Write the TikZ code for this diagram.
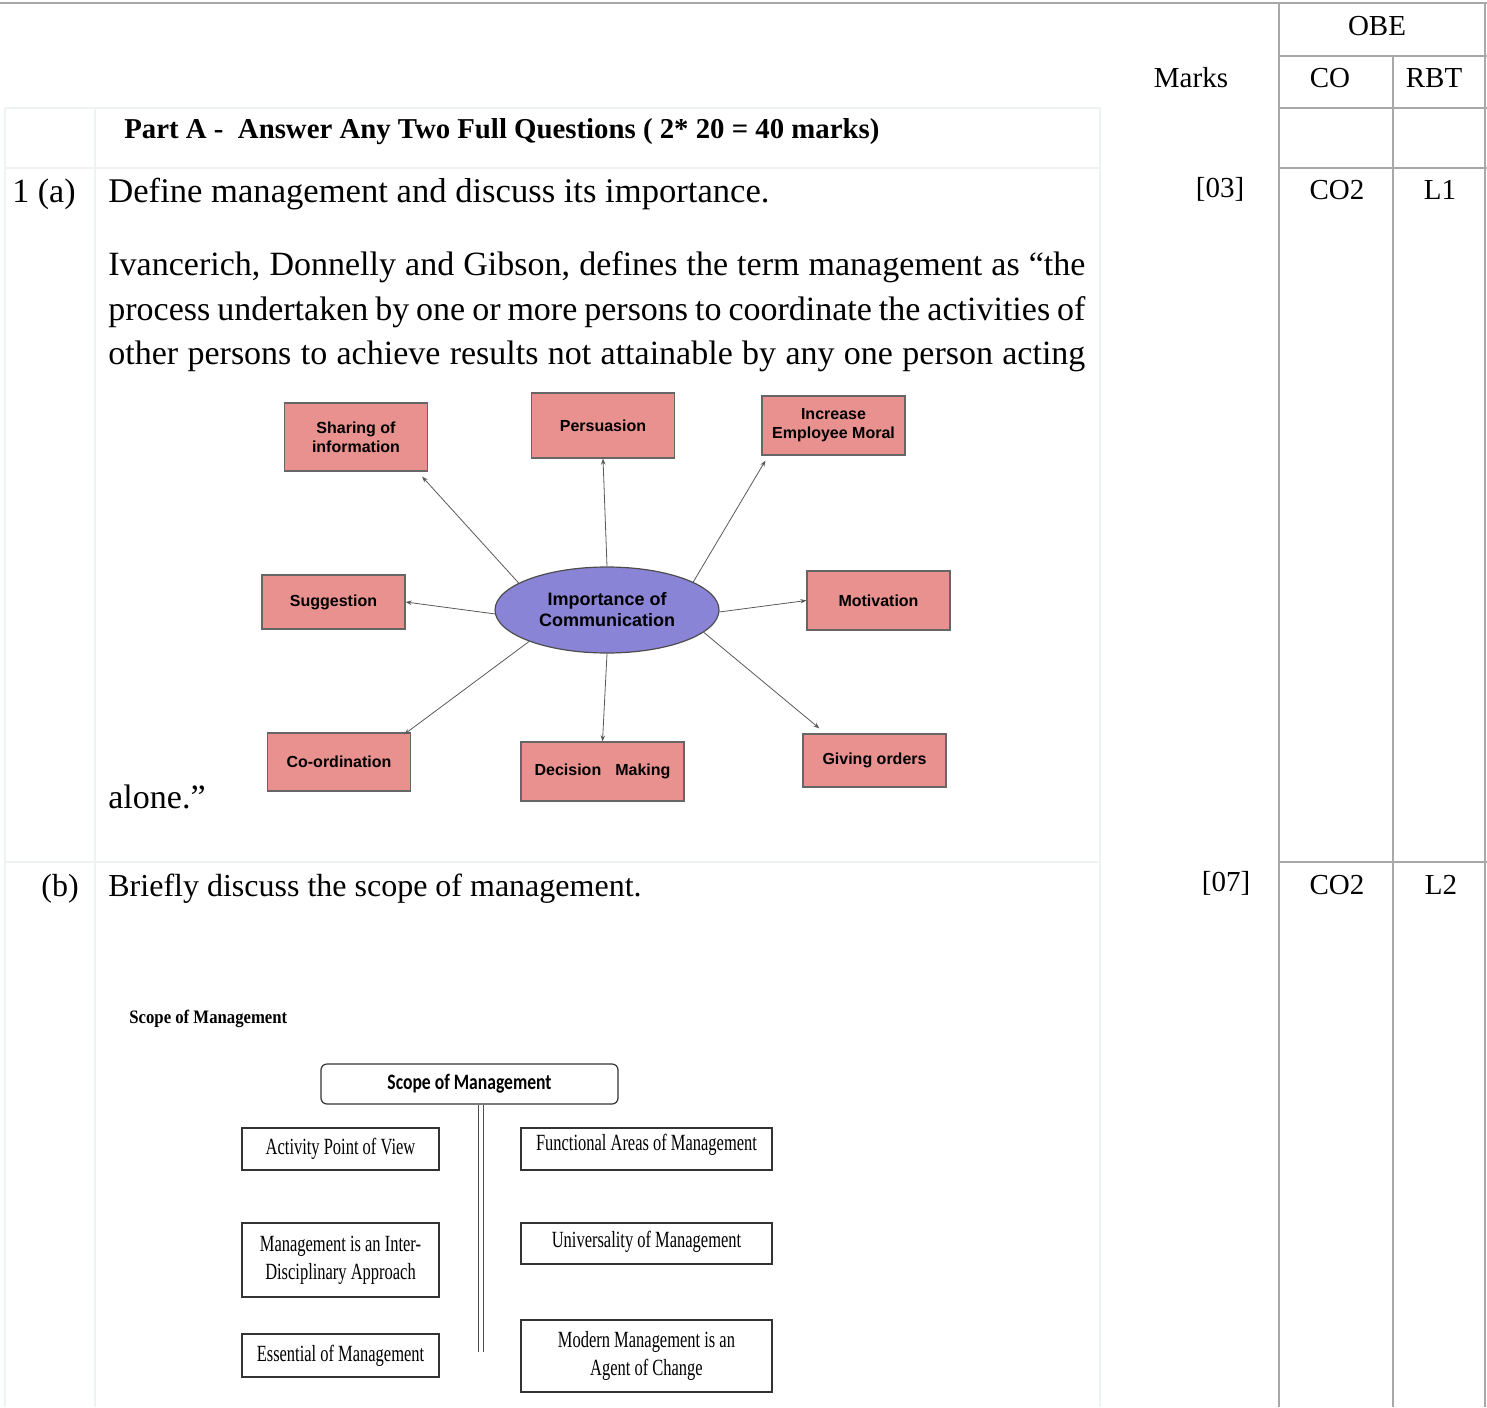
\documentclass[tikz,border=0pt]{standalone}
\usepackage{fontspec}
\setmainfont{Liberation Serif}
\newfontfamily\diagfont{Liberation Sans}
\newfontfamily\narrowserif[FakeStretch=0.71]{Liberation Serif}
\newfontfamily\headserif[FakeStretch=0.88]{Liberation Serif}
\newfontfamily\rootfont[FakeStretch=0.8]{Carlito}
\usetikzlibrary{shapes.geometric,arrows.meta,positioning}
\definecolor{rulegray}{HTML}{A8A8A8}
\definecolor{faintgray}{HTML}{EEF2F2}
\definecolor{boxpink}{HTML}{E8918F}
\definecolor{hubblue}{HTML}{8A84D6}
\tikzset{
	grid line/.style={draw=rulegray,line width=1.3pt},
	faint line/.style={draw=faintgray,line width=0.7pt},
	body/.style={anchor=base west,inner sep=0pt,font=\fontsize{17}{22}\selectfont},
	head/.style={anchor=base,inner sep=0pt,font=\fontsize{14.5}{18}\selectfont},
	part title/.style={anchor=base west,inner sep=0pt,font=\bfseries\fontsize{14.4}{17}\selectfont},
	pink box/.style={draw=black!60,fill=boxpink,line width=0.6pt,minimum width=71.5pt,
		align=center,inner sep=1pt,font=\diagfont\bfseries\fontsize{8}{9.5}\selectfont},
	hub/.style={ellipse,draw=black!70,fill=hubblue,line width=0.6pt,minimum width=112pt,
		minimum height=43pt,inner sep=0pt,align=center,font=\diagfont\bfseries\fontsize{9}{10.5}\selectfont},
	ray/.style={draw=black!65,line width=0.4pt,-{Stealth[length=3pt,width=2.2pt]}},
	scope box/.style={draw=black!80,line width=0.6pt,align=center,inner sep=1pt,
		minimum width=98.5pt,font=\narrowserif\fontsize{11.6}{14}\selectfont},
	wide box/.style={scope box,minimum width=125.5pt},
	root box/.style={draw=black!80,line width=0.6pt,rounded corners=3pt,minimum width=148.5pt,
		minimum height=20pt,inner sep=0pt,font=\rootfont\bfseries\fontsize{11}{13}\selectfont},
	stem/.style={draw=black!70,line width=0.5pt,double,double distance=2pt}
}
\begin{document}
\begin{tikzpicture}[x=0.5pt,y=-0.5pt]
\useasboundingbox (0,0) rectangle (1487,1407);
% cell borders
\draw[faint line] (5,108) -- (1100,108) (5,168) -- (1100,168) (5,862) -- (1100,862)
	(5,108) -- (5,1407) (95,108) -- (95,1407) (1100,108) -- (1100,1407);
\draw[grid line] (0,3) -- (1487,3);
\draw[grid line] (1279,3) -- (1279,1407) (1393,56) -- (1393,1407) (1485,3) -- (1485,1407);
\foreach \yy in {56,108,168,862}
	\draw[grid line] (1279,\yy) -- (1487,\yy);
% header
\node[head] (obe) at (1377,36) {OBE};
\node[head] (marks) at (1191,88) {Marks};
\node[head] (co) at (1330,88) {CO};
\node[head] (rbt) at (1434,88) {RBT};
\node[part title] (part) at (124,139) {Part A -\ \ Answer Any Two Full Questions ( 2* 20 = 40 marks)};
% question 1 (a)
\node[body] (qa) at (12,203) {1 (a)};
\node[body,font=\fontsize{17.3}{22}\selectfont] (qatext) at (108,203) {Define management and discuss its importance.};
\node[head] (marksa) at (1220,198) {[03]};
\node[head] (coa) at (1337,200) {CO2};
\node[head] (rbta) at (1440,200) {L1};
\node[body] (para1) at (108,276) {\makebox[488.5pt][s]{Ivancerich, Donnelly and Gibson, defines the term management as “the}};
\node[body] (para2) at (108,320) {\makebox[488.5pt][s]{process undertaken by one or more persons to coordinate the activities of}};
\node[body] (para3) at (108,364) {\makebox[488.5pt][s]{other persons to achieve results not attainable by any one person acting}};
\node[body] (para4) at (108,808) {alone.”};
% importance of communication
\node[hub] (comm) at (607,610) {Importance of\\Communication};
\node[pink box,minimum height=34pt] (share) at (356,437) {Sharing of\\information};
\node[pink box,minimum height=32.5pt] (pers) at (603,425.5) {Persuasion};
\node[pink box,minimum height=29.5pt] (moral) at (833.5,425.5) {Increase\\Employee Moral};
\node[pink box,minimum height=27pt] (sugg) at (333.5,602) {Suggestion};
\node[pink box,minimum height=29.5pt] (motiv) at (878.5,600.5) {Motivation};
\node[pink box,minimum height=29pt] (coord) at (339,762) {Co-ordination};
\node[pink box,minimum width=81.5pt,minimum height=29.5pt] (dec) at (602.5,771.5) {Decision\hspace{7pt}Making};
\node[pink box,minimum height=26.5pt] (giving) at (874.5,760.5) {Giving orders};
\draw[ray] (comm.163) -- ([xshift=-3pt,yshift=-2.5pt]share.south east);
\draw[ray] (comm.north) -- (pers.south);
\draw[ray] (comm.18) -- ([xshift=2pt,yshift=-2.5pt]moral.south west);
\draw[ray] (comm.182) -- (sugg.east);
\draw[ray] (comm.-1) -- (motiv.west);
\draw[ray] (comm.202) -- ([xshift=-3.5pt,yshift=-1pt]coord.north east);
\draw[ray] (comm.south) -- (dec.north);
\draw[ray] (comm.-13) -- ([xshift=8.5pt,yshift=2.5pt]giving.north west);
% question 1 (b)
\node[body,font=\fontsize{16}{20}\selectfont] (qb) at (41,896) {(b)};
\node[body,font=\fontsize{16}{20}\selectfont] (qbtext) at (108,896) {Briefly discuss the scope of management.};
\node[head] (marksb) at (1226,891) {[07]};
\node[head] (cob) at (1337,894) {CO2};
\node[head] (rbtb) at (1441,894) {L2};
% scope of management
\node[anchor=base west,inner sep=0pt,font=\headserif\bfseries\fontsize{9.5}{11}\selectfont] (scopetitle) at (129,1023) {Scope of Management};
\node[root box] (root) at (469.5,1084) {Scope of Management};
\node[scope box,minimum height=21pt] (activity) at (340.5,1149) {Activity Point of View};
\node[scope box,minimum height=37pt] (inter) at (340.5,1260) {Management is an Inter-\\Disciplinary Approach};
\node[scope box,minimum height=21.5pt] (essential) at (340.5,1355.5) {Essential of Management};
\node[wide box,minimum height=21pt,text depth=7pt] (functional) at (646.5,1149) {Functional Areas of Management};
\node[wide box,minimum height=20.5pt,text depth=4pt] (universal) at (646.5,1243.5) {Universality of Management};
\node[wide box,minimum height=36pt] (modern) at (646.5,1356) {Modern Management is an\\Agent of Change};
\coordinate (stemend) at (480.5,1352);
\draw[stem] (root.south -| stemend) -- (stemend);
\end{tikzpicture}
\end{document}
